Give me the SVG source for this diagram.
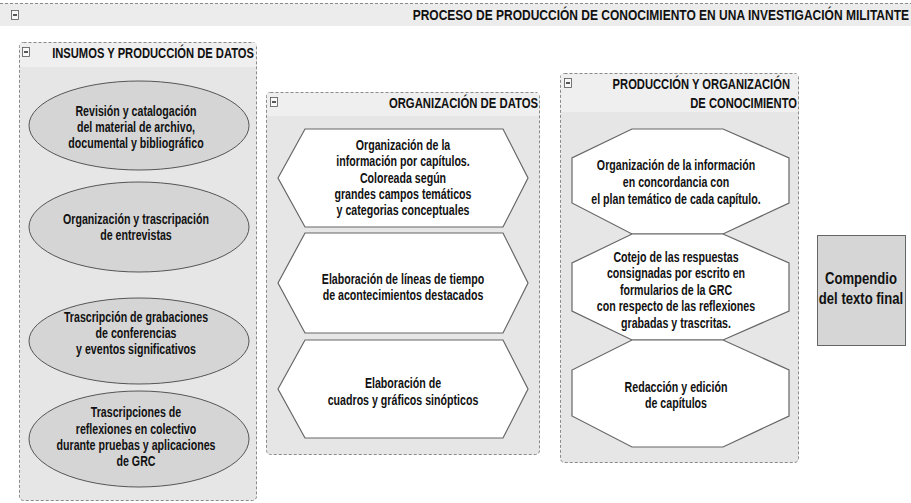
<svg xmlns="http://www.w3.org/2000/svg" width="911" height="503" viewBox="0 0 911 503">
<defs>
<style>
text{font-family:"Liberation Sans",Arial,sans-serif;font-weight:bold;fill:#111;}
.grp{fill:#e6e6e6;stroke:#8a8a8a;stroke-width:1;stroke-dasharray:3,2;}
.hdr{fill:#efefef;}
.ttl{font-size:15px;text-anchor:end;}
.gh{font-size:14.5px;text-anchor:end;}
.lbl{font-size:14px;text-anchor:middle;}
.big{font-size:17px;text-anchor:middle;}
.ell{fill:#d5d5d5;stroke:#555;stroke-width:1;}
.hex{fill:#fff;stroke:#666;stroke-width:1.2;}
.cmp{fill:#d6d6d6;stroke:#666;stroke-width:1;}
.tog{fill:#f8f8f8;stroke:#555;stroke-width:0.8;}
.dash{stroke:#222;stroke-width:1.5;}
</style>
</defs>
<rect width="911" height="503" fill="#fff"/>
<g id="main">
<rect x="0" y="3" width="911" height="23" fill="#ececec"/>
<line x1="0" y1="3.5" x2="911" y2="3.5" stroke="#8a8a8a" stroke-dasharray="3,2"/>
<rect class="tog" x="11.5" y="10.5" width="7" height="9"/>
<line class="dash" x1="13" y1="15" x2="17" y2="15"/>
<text class="ttl" transform="translate(909,20) scale(0.8,1)" x="0" y="0">PROCESO DE PRODUCCIÓN DE CONOCIMIENTO EN UNA INVESTIGACIÓN MILITANTE</text>
</g>
<g id="insumos">
<rect class="grp" x="19.5" y="42.5" width="237" height="458" rx="4"/>
<rect class="hdr" x="20" y="43" width="236" height="24"/>
<rect class="tog" x="22.5" y="47.5" width="7" height="9"/>
<line class="dash" x1="24" y1="52" x2="28" y2="52"/>
<text class="gh" transform="translate(254,58) scale(0.773,1)" x="0" y="0">INSUMOS Y PRODUCCIÓN DE DATOS</text>
</g>
<g id="n1">
<ellipse class="ell" cx="139" cy="125.5" rx="110" ry="44.5"/>
<text class="lbl" transform="translate(136,0) scale(0.76,1)"><tspan x="0" y="116">Revisión y catalogación</tspan><tspan x="0" y="132">del material de archivo,</tspan><tspan x="0" y="148">documental y bibliográfico</tspan></text>
</g>
<g id="n2">
<ellipse class="ell" cx="139" cy="227" rx="110" ry="45"/>
<text class="lbl" transform="translate(136,0) scale(0.76,1)"><tspan x="0" y="224">Organización y trascripación</tspan><tspan x="0" y="240">de entrevistas</tspan></text>
</g>
<g id="n3">
<ellipse class="ell" cx="139" cy="341" rx="110" ry="43"/>
<text class="lbl" transform="translate(136,0) scale(0.76,1)"><tspan x="0" y="322">Trascripción de grabaciones</tspan><tspan x="0" y="338">de conferencias</tspan><tspan x="0" y="354">y eventos significativos</tspan></text>
</g>
<g id="n4">
<ellipse class="ell" cx="139" cy="439" rx="110" ry="48"/>
<text class="lbl" transform="translate(136,0) scale(0.76,1)"><tspan x="0" y="417">Trascripciones de</tspan><tspan x="0" y="434">reflexiones en colectivo</tspan><tspan x="0" y="450">durante pruebas y aplicaciones</tspan><tspan x="0" y="466">de GRC</tspan></text>
</g>
<g id="organizacion">
<rect class="grp" x="266.5" y="92.5" width="273" height="362" rx="4"/>
<rect class="hdr" x="267" y="93" width="272" height="23"/>
<rect class="tog" x="270.5" y="97.5" width="7" height="9"/>
<line class="dash" x1="272" y1="102" x2="276" y2="102"/>
<text class="gh" transform="translate(538,108) scale(0.78,1)" x="0" y="0">ORGANIZACIÓN DE DATOS</text>
</g>
<g id="h1">
<polygon class="hex" points="278,178 305,129 503,129 528,178 503,227 305,227"/>
<text class="lbl" transform="translate(403,0) scale(0.76,1)"><tspan x="0" y="150">Organización de la</tspan><tspan x="0" y="166">información por capítulos.</tspan><tspan x="0" y="183">Coloreada según</tspan><tspan x="0" y="199">grandes campos temáticos</tspan><tspan x="0" y="215">y categorias conceptuales</tspan></text>
</g>
<g id="h2">
<polygon class="hex" points="278,283 305,233 503,233 528,283 503,333 305,333"/>
<text class="lbl" transform="translate(403,0) scale(0.76,1)"><tspan x="0" y="284">Elaboración de líneas de tiempo</tspan><tspan x="0" y="300">de acontecimientos destacados</tspan></text>
</g>
<g id="h3">
<polygon class="hex" points="278,389 305,340 503,340 528,389 503,438 305,438"/>
<text class="lbl" transform="translate(403,0) scale(0.76,1)"><tspan x="0" y="388">Elaboración de</tspan><tspan x="0" y="405">cuadros y gráficos sinópticos</tspan></text>
</g>
<g id="produccion">
<rect class="grp" x="560.5" y="73.5" width="238" height="389" rx="4"/>
<rect class="hdr" x="561" y="74" width="237" height="38"/>
<rect class="tog" x="564.5" y="78.5" width="7" height="9"/>
<line class="dash" x1="566" y1="83" x2="570" y2="83"/>
<text class="gh" transform="translate(790,89) scale(0.773,1)" x="0" y="0">PRODUCCIÓN Y ORGANIZACIÓN</text>
<text class="gh" transform="translate(797,108) scale(0.773,1)" x="0" y="0">DE CONOCIMIENTO</text>
</g>
<g id="o1">
<polygon class="hex" points="632,129 723,129 789,158 789,203 723,234 632,234 572,203 572,158"/>
<text class="lbl" transform="translate(676,0) scale(0.76,1)"><tspan x="0" y="170">Organización de la información</tspan><tspan x="0" y="187">en concordancia con</tspan><tspan x="0" y="204">el plan temático de cada capítulo.</tspan></text>
</g>
<g id="o2">
<polygon class="hex" points="632,234 723,234 789,263 789,311 723,340 632,340 572,311 572,263"/>
<text class="lbl" transform="translate(676,0) scale(0.76,1)"><tspan x="0" y="262">Cotejo de las respuestas</tspan><tspan x="0" y="278">consignadas por escrito en</tspan><tspan x="0" y="295">formularios de la GRC</tspan><tspan x="0" y="311">con respecto de las reflexiones</tspan><tspan x="0" y="328">grabadas y trascritas.</tspan></text>
</g>
<g id="o3">
<polygon class="hex" points="632,340 723,340 789,370 789,416 723,447 632,447 572,416 572,370"/>
<text class="lbl" transform="translate(676,0) scale(0.76,1)"><tspan x="0" y="392">Redacción y edición</tspan><tspan x="0" y="408">de capítulos</tspan></text>
</g>
<g id="compendio">
<rect class="cmp" x="817.5" y="235.5" width="88" height="110"/>
<text class="big" transform="translate(861,0) scale(0.77,1)"><tspan x="0" y="284">Compendio</tspan><tspan x="0" y="304">del texto final</tspan></text>
</g>
<g id="connectors"></g>
</svg>
